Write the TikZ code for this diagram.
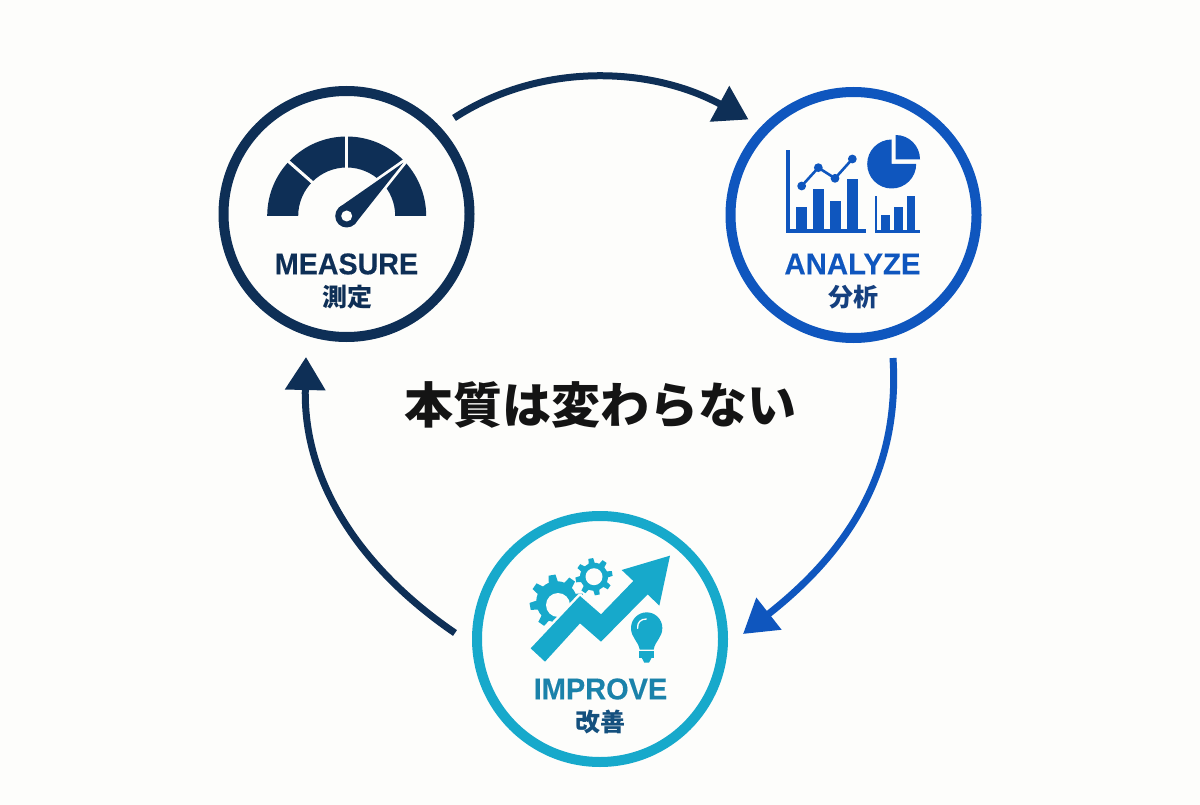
\documentclass[tikz,border=0pt]{standalone}
\usepackage{graphicx}
\usepackage{fontspec}
\usetikzlibrary{arrows.meta}
\setmainfont{Liberation Sans}[BoldFeatures={FakeBold=0.25}]
\newfontfamily\cjk{Noto Sans CJK JP}
\definecolor{bgc}{HTML}{FDFDFB}
\definecolor{navy}{HTML}{0E2F56}
\definecolor{blu}{HTML}{0F56BE}
\definecolor{cya}{HTML}{17A9CB}
\definecolor{imptext}{HTML}{1B82AA}
\definecolor{impjp}{HTML}{14507E}
\definecolor{anajp}{HTML}{15407F}
\tikzset{
  ring/.style={circle,draw=#1,line width=10pt,minimum size=246pt,inner sep=0pt,fill=bgc},
  entitle/.style={font=\bfseries\fontsize{30}{30}\selectfont,inner sep=0pt,text=#1},
  jptitle/.style={font=\cjk\bfseries\fontsize{25}{25}\selectfont,inner sep=0pt,text=#1},
  flow/.style={draw=#1,line width=7pt,-{Triangle[length=33pt,width=39pt,fill=#1]}},
  zoomA/.style={shift={(720,90)},x=.33333pt,y=-.33333pt},
  zoomI/.style={shift={(465,515)},x=.33333pt,y=-.33333pt},
}
\newcommand{\gearshape}[4]{% outer, root, hole, teeth
  \fill[cya] (0,0) circle[radius=#2pt];
  \foreach \a in {1,...,#4}{
    \fill[cya,rotate=\a*360/#4+10] (-#1*.17,#2-1) -- (-#1*.13,#1) -- (#1*.13,#1) -- (#1*.17,#2-1) -- cycle;
  }
}
\begin{document}
\begin{tikzpicture}[x=1pt,y=-1pt]
\useasboundingbox (0,0) rectangle (1200,805);
\fill[bgc] (0,0) rectangle (1200,805);
\node[ring=navy] (measure) at (346.5,214) {};
\node[ring=blu] (analyze) at (853.5,215) {};
\node[ring=cya] (improve) at (600,639) {};
% gauge
\begin{scope}[shift={(346.7,216)},x=1pt,y=1pt]
  \fill[navy] (-79.5,0) arc[start angle=180,end angle=0,radius=79.5pt] -- (48.5,0) arc[start angle=0,end angle=180,radius=48.5pt] -- cycle;
  \draw[bgc,line width=3pt] (0,40) -- (0,85);
  \draw[bgc,line width=3pt] (135:40pt) -- (137:85pt);
  \fill[navy,draw=bgc,line width=5pt,line join=miter] (58.5,55) -- (7.9,-8.4) -- (-7.9,8.4) -- cycle;
  \fill[bgc] (-7,7) circle[radius=12pt];
  \fill[navy] (0,0) circle[radius=11.5pt];
  \fill[navy] (56.7,53.3) -- (7.9,-8.4) -- (-7.9,8.4) -- cycle;
  \fill[bgc] (0,0) circle[radius=5.5pt];
\end{scope}
% charts
\begin{scope}[zoomA]
  \fill[blu] (197,180) rectangle (210,428);
  \fill[blu] (197,418) rectangle (438,428);
  \fill[blu] (228,352) rectangle (262,420);
  \fill[blu] (278,298) rectangle (312,420);
  \fill[blu] (330,332) rectangle (364,420);
  \fill[blu] (380,266) rectangle (414,420);
  \draw[blu,line width=2.6pt] (245,288) -- (295,233) -- (345,265) -- (397,207);
  \foreach \p in {(245,288),(295,233),(345,265),(397,207)} \fill[blu] \p circle[radius=4.4pt];
  \fill[blu] (464,318) rectangle (471,428);
  \fill[blu] (464,420) rectangle (600,428);
  \fill[blu] (484,375) rectangle (511,422);
  \fill[blu] (522,350) rectangle (548,422);
  \fill[blu] (560,318) rectangle (585,422);
\end{scope}
\begin{scope}[shift={(891.7,164)},x=1pt,y=1pt]
  \fill[blu] (0,0) -- (0,24.5) arc[start angle=90,end angle=360,radius=24.5pt] -- cycle;
\end{scope}
\begin{scope}[shift={(895.7,159.3)},x=1pt,y=1pt]
  \fill[blu] (0,0) -- (24.3,0) arc[start angle=0,end angle=90,radius=24.3pt] -- cycle;
\end{scope}
% improve: gears
\begin{scope}[shift={(556.7,601.7)},x=1pt,y=1pt]
  \gearshape{27}{20.5}{12}{8}
  \fill[bgc] (1.3,-3.3) circle[radius=12pt];
  \fill[bgc,rotate=-45] (0,-6.5) rectangle (30,6.5);
\end{scope}
\begin{scope}[shift={(594,576.7)},x=1pt,y=1pt]
  \gearshape{18.5}{14}{8.5}{8}
  \fill[bgc] (0,0) circle[radius=8.5pt];
\end{scope}
\begin{scope}[zoomI]
  \fill[cya,draw=bgc,line width=5pt,line join=round] (197,400) -- (240,440) -- (345,325) -- (408,380) -- (548,238) -- (583,272) -- (615,122) -- (470,165) -- (505,198) -- (408,298) -- (345,243) -- cycle;
  \fill[cya] (197,400) -- (240,440) -- (345,325) -- (408,380) -- (548,238) -- (583,272) -- (615,122) -- (470,165) -- (505,198) -- (408,298) -- (345,243) -- cycle;
  % bulb
  \fill[cya] (498,339) .. controls (498,313) and (519,292) .. (545,292) .. controls (571,292) and (592,313) .. (592,339) .. controls (592,368) and (570,378) .. (566,404) -- (524,404) .. controls (520,378) and (498,368) .. (498,339) -- cycle;
  \fill[cya] (522,409) rectangle (568,428);
  \fill[cya] (530,428) -- (560,428) -- (552,443) -- (538,443) -- cycle;
  \draw[bgc,line width=1.3pt,line cap=round] (518,340) .. controls (516,322) and (528,312) .. (544,312);
\end{scope}
% labels
\node[entitle=navy] (mEn) at (346.5,264) {\scalebox{.955}[1]{MEASURE}};
\node[jptitle=navy] (mJp) at (347,297) {測定};
\node[entitle=blu] (aEn) at (852.5,264) {\scalebox{.98}[1]{ANALYZE}};
\node[jptitle=anajp] (aJp) at (853,297) {分析};
\node[entitle=imptext] (iEn) at (600.5,689) {\scalebox{.965}[1]{IMPROVE}};
\node[jptitle=impjp] (iJp) at (600,722) {改善};
\node[font=\cjk\bfseries\fontsize{49}{49}\selectfont,inner sep=0pt,text=black!92] (title) at (600,405) {本質は変わらない};
% connectors
\coordinate (a1s) at (454,118);
\coordinate (a1e) at (748.5,119.5);
\coordinate (a2s) at (893,358);
\coordinate (a2e) at (743,634);
\coordinate (a3s) at (455,633);
\coordinate (a3e) at (306,357);
\draw[flow=navy] (a1s) .. controls (540,62) and (650,66) .. (a1e);
\draw[flow=blu] (a2s) .. controls (900,470) and (850,550) .. (a2e);
\draw[flow=navy] (a3s) .. controls (370,575) and (303,490) .. (a3e);
\end{tikzpicture}
\end{document}
